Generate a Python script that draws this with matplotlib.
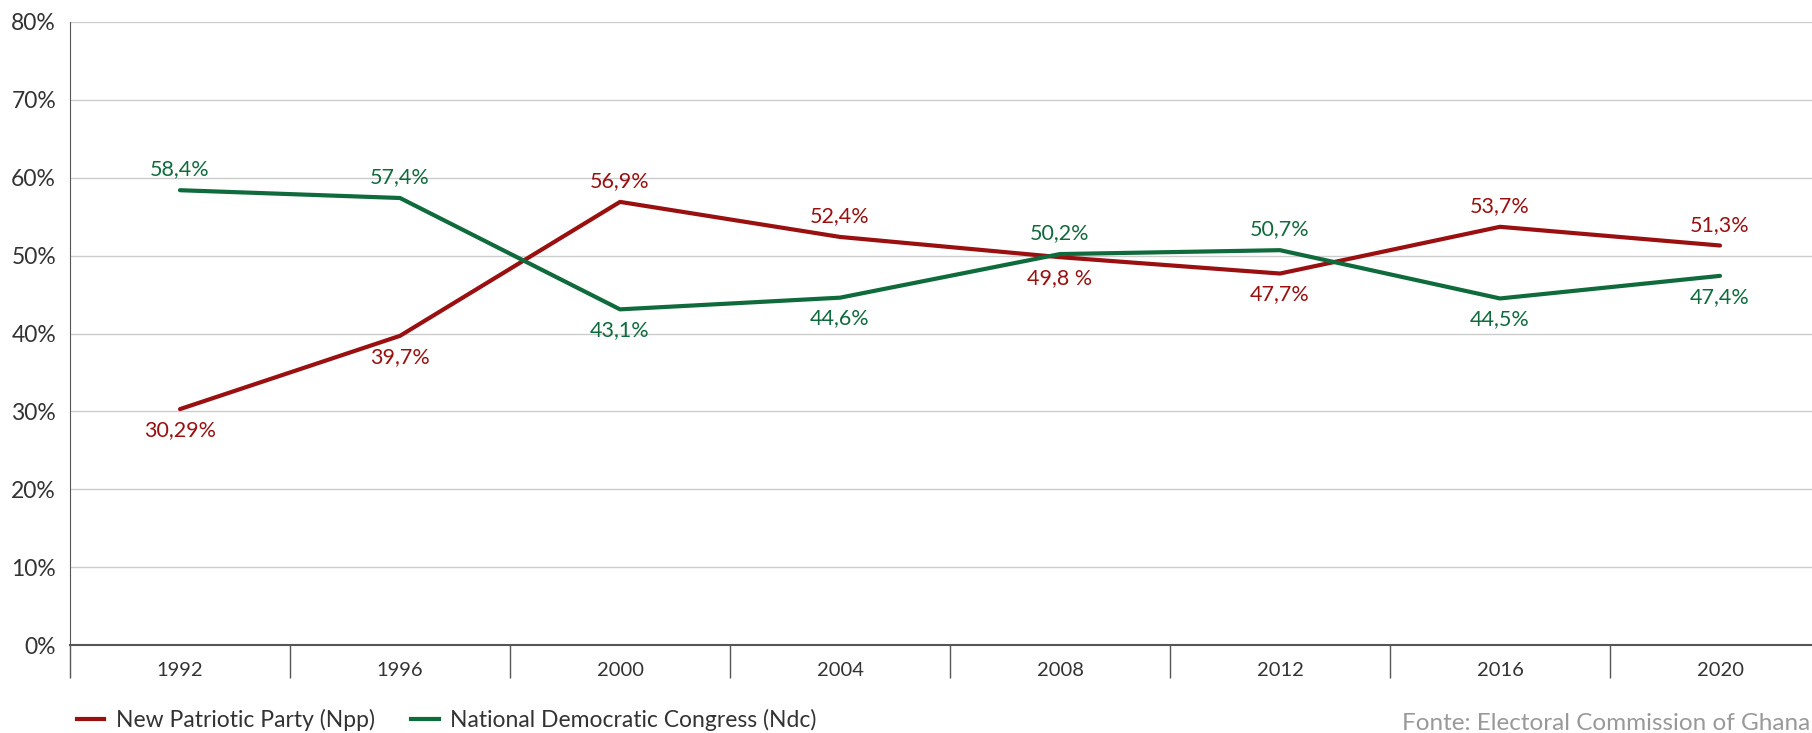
import numpy as np
import matplotlib.pyplot as plt
from matplotlib.lines import Line2D

plt.rcParams['font.family'] = ['Lato', 'DejaVu Sans']

years = ['1992', '1996', '2000', '2004', '2008', '2012', '2016', '2020']
npp = [30.29, 39.7, 56.9, 52.4, 49.8, 47.7, 53.7, 51.3]
ndc = [58.4, 57.4, 43.1, 44.6, 50.2, 50.7, 44.5, 47.4]
npp_labels = ['30,29%', '39,7%', '56,9%', '52,4%', '49,8 %', '47,7%', '53,7%', '51,3%']
ndc_labels = ['58,4%', '57,4%', '43,1%', '44,6%', '50,2%', '50,7%', '44,5%', '47,4%']
# +1 = label above the point, -1 = below
npp_side = [-1, -1, 1, 1, -1, -1, 1, 1]
ndc_side = [1, 1, -1, -1, 1, 1, -1, -1]

red = '#9a1010'
green = '#0f6b3c'
text_col = '#333333'

fig = plt.figure(figsize=(18.12, 7.33), dpi=100)
# the axis runs a little past the right edge of the picture
ax = fig.add_axes([70 / 1812, 1 - 645 / 733, 1760 / 1812, 623 / 733])

x = np.arange(len(years))
ax.plot(x, npp, color=red, lw=3, solid_capstyle='round', zorder=3)
ax.plot(x, ndc, color=green, lw=3, solid_capstyle='round', zorder=3)

for xi, v, lab, s in zip(x, npp, npp_labels, npp_side):
    ax.annotate(lab, (xi, v), xytext=(0, 15 * s), textcoords='offset points',
                ha='center', va='center', color=red, fontsize=15.5)
for xi, v, lab, s in zip(x, ndc, ndc_labels, ndc_side):
    ax.annotate(lab, (xi, v), xytext=(0, 15 * s), textcoords='offset points',
                ha='center', va='center', color=green, fontsize=15.5)

ax.set_xlim(-0.5, len(years) - 0.5)
ax.set_ylim(0, 80)
ax.set_yticks(range(0, 81, 10))
ax.set_yticklabels([f'{v}%' for v in range(0, 81, 10)], fontsize=16.5, color=text_col)
ax.yaxis.grid(True, color='#cccccc', lw=1)
ax.set_axisbelow(True)
ax.tick_params(axis='y', length=0, pad=10)

ax.set_xticks(x)
ax.set_xticklabels(years, fontsize=14.5, color=text_col)
ax.tick_params(axis='x', length=0, pad=12)
ax.set_xticks(np.arange(-0.5, len(years), 1), minor=True)
ax.tick_params(axis='x', which='minor', length=24, width=1, color='#555555')

for sp in ['top', 'right']:
    ax.spines[sp].set_visible(False)
ax.spines['left'].set_color('#555555')
ax.spines['bottom'].set_color('#555555')
ax.spines['bottom'].set_linewidth(1.5)

handles = [Line2D([], [], color=red, lw=3), Line2D([], [], color=green, lw=3)]
fig.legend(handles, ['New Patriotic Party (Npp)', 'National Democratic Congress (Ndc)'],
           loc='center left', bbox_to_anchor=(56 / 1812, 1 - 720 / 733), ncol=2,
           frameon=False, fontsize=16.5, handlelength=1.2, handletextpad=0.5,
           columnspacing=1.6, labelcolor=text_col)

fig.text(1810 / 1812, 1 - 723 / 733, 'Fonte: Electoral Commission of Ghana',
         ha='right', va='center', fontsize=17.5, color='#999999')

fig.savefig('out.png', dpi=100)
